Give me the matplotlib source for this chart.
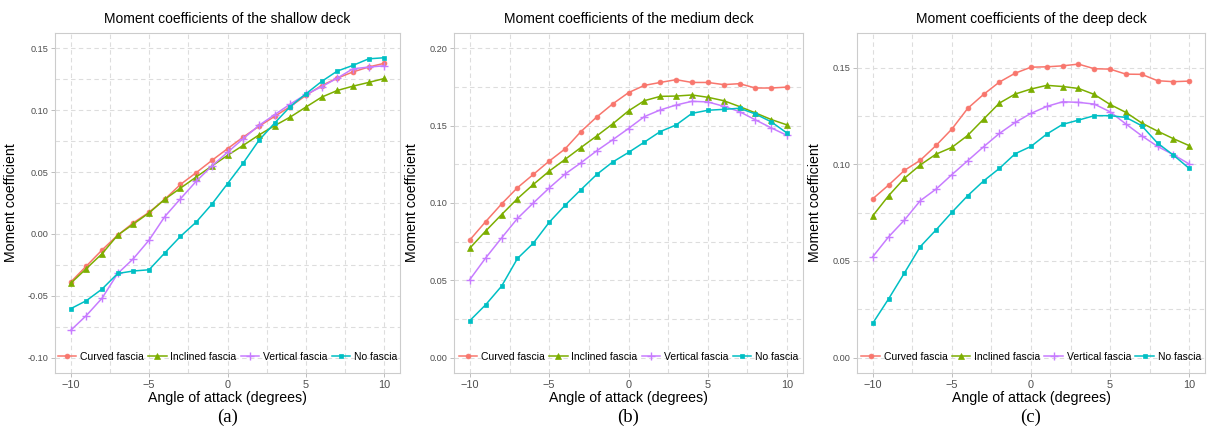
import matplotlib
matplotlib.use("Agg")
import matplotlib.pyplot as plt
import numpy as np

plt.rcParams["font.family"] = ["Liberation Sans", "DejaVu Sans"]

angles = list(range(-10, 11))
series_names = ["Curved fascia", "Inclined fascia", "Vertical fascia", "No fascia"]
titles = ["Moment coefficients of the shallow deck",
          "Moment coefficients of the medium deck",
          "Moment coefficients of the deep deck"]
panel_labels = ["(a)", "(b)", "(c)"]

shallow_curved = [-0.039, -0.026, -0.013, -0.001, 0.009, 0.0175, 0.028, 0.040, 0.0495, 0.0594, 0.0689,
                  0.0783, 0.087, 0.095, 0.103, 0.112, 0.120, 0.126, 0.131, 0.135, 0.138]
shallow_inclined = [-0.040, -0.028, -0.016, -0.001, 0.008, 0.017, 0.028, 0.037, 0.046, 0.0549, 0.0635,
                    0.0716, 0.080, 0.0875, 0.0945, 0.1026, 0.1106, 0.116, 0.1195, 0.1225, 0.1257]
shallow_vertical = [-0.078, -0.066, -0.052, -0.032, -0.020, -0.005, 0.014, 0.0284, 0.0425, 0.0549, 0.066,
                    0.077, 0.0877, 0.0964, 0.105, 0.1128, 0.119, 0.126, 0.1336, 0.1349, 0.136]
shallow_none = [-0.0605, -0.054, -0.0446, -0.032, -0.030, -0.029, -0.0154, -0.002, 0.0095, 0.024, 0.0406,
                0.0573, 0.0756, 0.0896, 0.103, 0.1133, 0.1233, 0.1317, 0.1363, 0.1416, 0.1425]

medium_curved = [0.0761, 0.088, 0.0994, 0.1099, 0.1185, 0.1271, 0.135, 0.1462, 0.1557, 0.1641, 0.1714,
                 0.1761, 0.178, 0.1798, 0.178, 0.178, 0.1766, 0.1772, 0.1744, 0.1744, 0.175]
medium_inclined = [0.0708, 0.0819, 0.0925, 0.1028, 0.112, 0.1206, 0.1282, 0.1359, 0.1434, 0.1512, 0.1596,
                   0.1662, 0.169, 0.1692, 0.1699, 0.1684, 0.1662, 0.1624, 0.1583, 0.154, 0.1505]
medium_vertical = [0.0505, 0.0645, 0.0774, 0.090, 0.100, 0.1097, 0.1187, 0.126, 0.1338, 0.1409, 0.1482,
                   0.1559, 0.1602, 0.1634, 0.1658, 0.1654, 0.1626, 0.1591, 0.1538, 0.1486, 0.1437]
medium_none = [0.0239, 0.0342, 0.0462, 0.0641, 0.074, 0.0875, 0.0985, 0.1086, 0.1185, 0.1265, 0.1327,
               0.1394, 0.1462, 0.1505, 0.158, 0.160, 0.1606, 0.1613, 0.1576, 0.1525, 0.1452]

deep_curved = [0.0822, 0.0893, 0.0969, 0.1021, 0.1098, 0.1183, 0.129, 0.1362, 0.1426, 0.1472, 0.1503,
               0.1505, 0.151, 0.1519, 0.1495, 0.1493, 0.1467, 0.1466, 0.1433, 0.1428, 0.1431]
deep_inclined = [0.0734, 0.0838, 0.0928, 0.0997, 0.1053, 0.1088, 0.115, 0.1234, 0.1317, 0.1364, 0.139,
                 0.1409, 0.1403, 0.1393, 0.1362, 0.131, 0.1269, 0.1214, 0.1172, 0.1133, 0.1097]
deep_vertical = [0.0522, 0.0625, 0.0712, 0.0812, 0.0872, 0.0947, 0.1019, 0.1091, 0.116, 0.1217, 0.1264,
                 0.130, 0.1324, 0.1321, 0.1312, 0.1272, 0.1209, 0.1148, 0.1093, 0.105, 0.1002]
deep_none = [0.0178, 0.0304, 0.0438, 0.0574, 0.0661, 0.0752, 0.0838, 0.0914, 0.0979, 0.1055, 0.1093,
             0.1157, 0.1207, 0.1229, 0.1252, 0.1252, 0.1243, 0.120, 0.111, 0.1048, 0.0979]

panels = [
    [shallow_curved, shallow_inclined, shallow_vertical, shallow_none],
    [medium_curved, medium_inclined, medium_vertical, medium_none],
    [deep_curved, deep_inclined, deep_vertical, deep_none],
]
ylims = [(-0.10, 0.15), (0.0, 0.20), (0.0, 0.16)]
yticks = [[-0.10, -0.05, 0.00, 0.05, 0.10, 0.15],
          [0.00, 0.05, 0.10, 0.15, 0.20],
          [0.00, 0.05, 0.10, 0.15]]

colors = ["#F8766D", "#7CAE00", "#C77CFF", "#00BFC4"]
markers = ["o", "^", "+", "s"]
msizes = [3.5, 4.0, 6.0, 3.5]

W, H = 1207, 430
fig = plt.figure(figsize=(W / 100, H / 100), dpi=100)
boxes = [(55, 400), (454, 803), (857, 1205)]
top_px, bot_px = 33, 373
ylabel_x = [17.5, 419, 822]

for i, (l, r) in enumerate(boxes):
    wpx, hpx = r - l, bot_px - top_px
    ax = fig.add_axes([l / W, (H - bot_px) / H, wpx / W, hpx / H])
    for k, vals in enumerate(panels[i]):
        ax.plot(angles, vals, color=colors[k], marker=markers[k], markersize=msizes[k],
                markeredgewidth=1.0 if markers[k] == "+" else 0.5, linewidth=1.1,
                label=series_names[k])
    lo, hi = ylims[i]
    pad = 0.05 * (hi - lo)
    ax.set_ylim(lo - pad, hi + pad)
    ax.set_xlim(-11, 11)
    ax.set_xticks([-10, -5, 0, 5, 10])
    ax.set_xticklabels(["\u221210", "\u22125", "0", "5", "10"])
    ax.set_yticks(yticks[i])
    ax.set_yticklabels([f"{v:.2f}" for v in yticks[i]])
    ax.set_xticks([-7.5, -2.5, 2.5, 7.5], minor=True)
    yt = yticks[i]
    ax.set_yticks([(a + b) / 2 for a, b in zip(yt[:-1], yt[1:])], minor=True)
    ax.grid(True, which="both", color="#dddddd", linestyle=(0, (4, 3)), linewidth=0.8)
    ax.set_axisbelow(True)
    for s in ax.spines.values():
        s.set_color("#cccccc")
        s.set_linewidth(0.8)
    ax.tick_params(axis="x", which="major", labelsize=7.8, colors="#b3b3b3",
                   labelcolor="#4d4d4d", length=3, width=0.6, pad=2)
    ax.tick_params(axis="y", which="major", labelsize=6.6, colors="#b3b3b3",
                   labelcolor="#4d4d4d", length=3, width=0.6, pad=2)
    ax.tick_params(axis="both", which="minor", length=0)
    ax.set_title(titles[i], fontsize=10, pad=7.5)
    ax.set_xlabel("Angle of attack (degrees)", fontsize=10.2, labelpad=1)
    ax.set_ylabel("Moment coefficient", fontsize=10.2)
    ax.yaxis.set_label_coords(-(l - ylabel_x[i]) / wpx, 0.5)
    ax.legend(loc="center", bbox_to_anchor=(0.5, 16 / hpx), ncol=4, frameon=False,
              fontsize=7.5, handlelength=1.8, handletextpad=0.35, columnspacing=0.4,
              borderpad=0, borderaxespad=0)
    cx = (l + r) / 2 / W
    fig.text(cx, 1 - 417 / H, panel_labels[i], ha="center", va="center",
             fontsize=13.5, family="Liberation Serif")

fig.savefig("out.png", dpi=100)
